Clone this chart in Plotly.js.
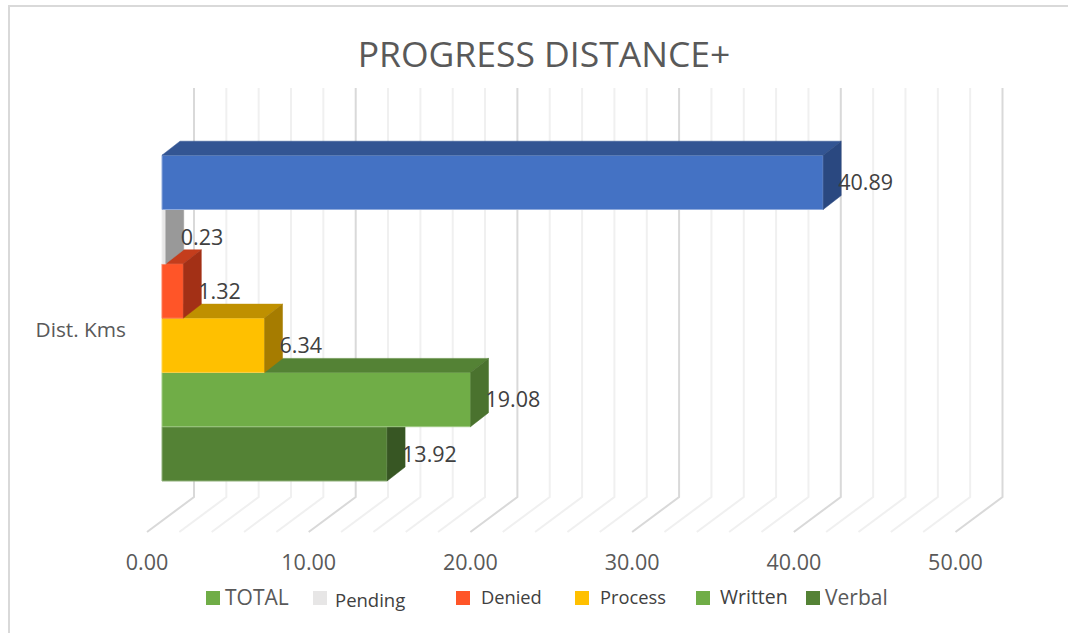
<!DOCTYPE html>
<html>
<head>
<meta charset="utf-8">
<script src="https://cdn.plot.ly/plotly-3.0.1.min.js"></script>
<style>html,body{margin:0;padding:0;background:#fff}#chart{width:1068px;height:633px}</style>
</head>
<body>
<div id="chart"></div>
<script>
// ---- data (bottom band first) ----
const seriesNames = ['Verbal', 'Written', 'Process', 'Denied', 'Pending', 'TOTAL'];
const seriesValues = [13.92, 19.08, 6.34, 1.32, 0.23, 40.89];
const frontColors = ['#548235', '#70AD47', '#FFC000', '#FF5528', '#E7E6E6', '#4472C4'];
const topColors = ['#456C2B', '#548235', '#BF9000', '#C43D1C', '#B0B0B0', '#335593'];
const sideColors = ['#375623', '#4A722E', '#A67C00', '#A33016', '#999999', '#2A4880'];
const edgeColors = ['#8FB07A', '#A0CB84', '#FFD34D', '#FF7A55', '#F0F0F0', '#8FAADC'];
const categoryLabel = 'Dist. Kms';
const tickValues = [0, 10, 20, 30, 40, 50];
const tickLabels = ['0.00', '10.00', '20.00', '30.00', '40.00', '50.00'];
const gridStepValues = [0,2,4,6,8,10,12,14,16,18,20,22,24,26,28,30,32,34,36,38,40,42,44,46,48,50];
const legendNames = ['TOTAL', 'Pending', 'Denied', 'Process', 'Written', 'Verbal'];
const legendColors = ['#70AD47', '#E7E6E6', '#FF5528', '#FFC000', '#70AD47', '#548235'];

// ---- layout geometry (pixels) ----
const plotL = 130, plotR = 1040, plotT = 80, plotB = 545;
const pxPerUnit = 16.17, pxPerBand = 54.3;
const floorZeroPx = 147, barZeroPx = 162, barBottomPx = 481;
const depthX = 18 / pxPerUnit, depthY = 14 / pxPerBand;
const wallDX = 47 / pxPerUnit;
const bandOf = p => (barBottomPx - p) / pxPerBand;
const paperX = p => (p - plotL) / (plotR - plotL);
const paperY = p => (plotB - p) / (plotB - plotT);
const xRangeMain = [(plotL - floorZeroPx) / pxPerUnit, (plotR - floorZeroPx) / pxPerUnit];
const xRangeBars = [(plotL - barZeroPx) / pxPerUnit, (plotR - barZeroPx) / pxPerUnit];
const yRange = [bandOf(plotB), bandOf(plotT)];
const font = 'Open Sans, sans-serif';

const traces = [];
// back wall + floor grid, on the main axis
gridStepValues.forEach(t => {
  const major = t % 10 === 0;
  traces.push({
    type: 'scatter', mode: 'lines', xaxis: 'x', yaxis: 'y', hoverinfo: 'skip', showlegend: false,
    x: [t, t + wallDX, t + wallDX],
    y: [bandOf(532), bandOf(497), bandOf(88)],
    line: { color: major ? '#D9D9D9' : '#F0F0F0', width: 2 }
  });
});

// one overlaid x axis per series so that the painter's order is kept
const overlayAxes = {};
seriesNames.forEach((name, i) => {
  const v = seriesValues[i];
  const ax = 'x' + (i + 2);
  overlayAxes['xaxis' + (i + 2)] = { overlaying: 'x', range: xRangeBars, visible: false, anchor: 'y', fixedrange: true };
  // front face
  traces.push({
    type: 'bar', orientation: 'h', name: name, xaxis: ax, yaxis: 'y', showlegend: false,
    x: [v], y: [i + 0.5], width: [1],
    marker: { color: frontColors[i], line: { color: edgeColors[i], width: 1 } }
  });
  // top face
  traces.push({
    type: 'scatter', mode: 'lines', fill: 'toself', xaxis: ax, yaxis: 'y', hoverinfo: 'skip', showlegend: false,
    x: [0, v, v + depthX, depthX, 0],
    y: [i + 1, i + 1, i + 1 + depthY, i + 1 + depthY, i + 1],
    fillcolor: topColors[i], line: { color: topColors[i], width: 0.5 }
  });
  // side face
  traces.push({
    type: 'scatter', mode: 'lines', fill: 'toself', xaxis: ax, yaxis: 'y', hoverinfo: 'skip', showlegend: false,
    x: [v, v + depthX, v + depthX, v, v],
    y: [i, i + depthY, i + 1 + depthY, i + 1, i],
    fillcolor: sideColors[i], line: { color: sideColors[i], width: 0.5 }
  });
});
// data labels on the top layer
traces.push({
  type: 'scatter', mode: 'text', xaxis: 'x7', yaxis: 'y', hoverinfo: 'skip', showlegend: false,
  x: seriesValues.map(v => v + depthX - 3 / pxPerUnit),
  y: seriesValues.map((v, i) => i + 0.5 - 2.5 / pxPerBand),
  text: seriesValues.map(v => v.toFixed(2)),
  textposition: 'middle right',
  textfont: { family: font, size: 21.5, color: '#404040' }
});

const legendSwatchX = [206, 313, 456, 575, 696, 806];
const legendTextX = [223, 333, 479, 598, 718, 823];
const legendTextY = [597, 599, 596, 596, 596, 597];
const legendTextColor = ['#595959', '#404040', '#404040', '#404040', '#404040', '#595959'];
const legendTextSize = [21, 18.5, 18.3, 18.3, 19.5, 21];

const shapes = [
  { type: 'line', xref: 'paper', yref: 'paper', x0: paperX(9), x1: paperX(9), y0: paperY(6), y1: paperY(633), line: { color: '#D9D9D9', width: 2 } },
  { type: 'line', xref: 'paper', yref: 'paper', x0: paperX(8), x1: paperX(1068), y0: paperY(6), y1: paperY(6), line: { color: '#D9D9D9', width: 2 } }
];
legendSwatchX.forEach((x, i) => shapes.push({
  type: 'rect', xref: 'paper', yref: 'paper', x0: paperX(x), x1: paperX(x + 14), y0: paperY(591), y1: paperY(605),
  fillcolor: legendColors[i], line: { width: 0 }
}));
const annotations = legendNames.map((n, i) => ({
  text: n, xref: 'paper', yref: 'paper', x: paperX(legendTextX[i]), y: paperY(legendTextY[i]),
  xanchor: 'left', yanchor: 'middle', showarrow: false,
  font: { family: font, size: legendTextSize[i], color: legendTextColor[i] }
}));

const layout = Object.assign({
  width: 1068, height: 633,
  margin: { l: plotL, r: 1068 - plotR, t: plotT, b: 633 - plotB, pad: 0 },
  paper_bgcolor: '#fff', plot_bgcolor: 'rgba(0,0,0,0)',
  showlegend: false, barmode: 'overlay',
  title: { text: 'PROGRESS DISTANCE+', x: 544 / 1068, xanchor: 'center', y: 1 - 55 / 633, yanchor: 'middle',
           font: { family: font, size: 35.5, color: '#595959' } },
  xaxis: { range: xRangeMain, tickmode: 'array', tickvals: tickValues, ticktext: tickLabels,
           showgrid: false, zeroline: false, showline: false, ticks: '', fixedrange: true, ticklabelstandoff: 2,
           tickfont: { family: font, size: 21.5, color: '#595959' } },
  yaxis: { range: yRange, tickmode: 'array', tickvals: [bandOf(330)], ticktext: [categoryLabel],
           showgrid: false, zeroline: false, showline: false, ticks: '', fixedrange: true, ticklabelstandoff: 3,
           tickfont: { family: font, size: 20.8, color: '#595959' } },
  shapes: shapes, annotations: annotations
}, overlayAxes);

Plotly.newPlot('chart', traces, layout, { displayModeBar: false, responsive: false });
</script>
</body>
</html>
